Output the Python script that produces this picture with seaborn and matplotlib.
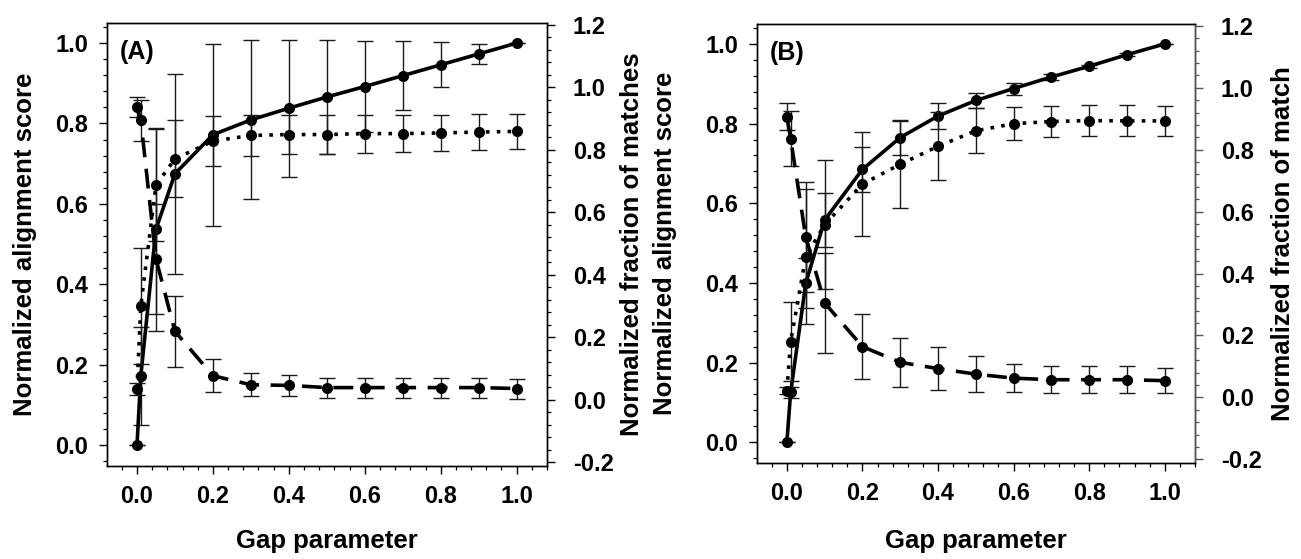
import numpy as np
import pandas as pd
import matplotlib
matplotlib.use("Agg")
import matplotlib.pyplot as plt
from matplotlib.ticker import MultipleLocator, FormatStrFormatter
import seaborn as sns

# ---------------- data ----------------
gap = [0, 0.01, 0.05, 0.1, 0.2, 0.3, 0.4, 0.5, 0.6, 0.7, 0.8, 0.9, 1.0]

# Panel A
score_a = [0.0, 0.172, 0.537, 0.675, 0.772, 0.809, 0.838, 0.866, 0.892, 0.919, 0.946, 0.973, 1.0]
score_a_err = [0.0, 0.121, 0.252, 0.249, 0.227, 0.198, 0.170, 0.141, 0.112, 0.085, 0.056, 0.025, 0.0]
dotted_a = [0.035, 0.301, 0.687, 0.771, 0.828, 0.846, 0.849, 0.849, 0.852, 0.852, 0.854, 0.857, 0.859]
dotted_a_err = [0.02, 0.185, 0.18, 0.123, 0.079, 0.066, 0.062, 0.062, 0.061, 0.058, 0.059, 0.057, 0.057]
dashed_a = [0.938, 0.895, 0.451, 0.219, 0.077, 0.048, 0.046, 0.039, 0.039, 0.039, 0.039, 0.039, 0.036]
dashed_a_err = [0.032, 0.066, 0.176, 0.113, 0.052, 0.037, 0.033, 0.032, 0.032, 0.032, 0.032, 0.032, 0.032]

# Panel B
score_b = [0.0, 0.125, 0.399, 0.558, 0.685, 0.765, 0.819, 0.858, 0.888, 0.917, 0.944, 0.973, 1.0]
score_b_err = [0.0, 0.015, 0.063, 0.069, 0.056, 0.043, 0.033, 0.02, 0.015, 0.007, 0.004, 0.003, 0.0]
dotted_b = [0.022, 0.180, 0.454, 0.558, 0.689, 0.753, 0.811, 0.861, 0.884, 0.891, 0.894, 0.893, 0.893]
dotted_b_err = [0.011, 0.128, 0.218, 0.208, 0.167, 0.14, 0.11, 0.073, 0.054, 0.049, 0.05, 0.05, 0.048]
dashed_b = [0.907, 0.836, 0.518, 0.305, 0.164, 0.113, 0.093, 0.075, 0.062, 0.057, 0.057, 0.057, 0.054]
dashed_b_err = [0.043, 0.09, 0.179, 0.162, 0.105, 0.079, 0.07, 0.059, 0.046, 0.043, 0.043, 0.043, 0.041]

panel_labels = ["(A)", "(B)"]
xlabel = "Gap parameter"
left_label = "Normalized alignment score"
right_labels = ["Normalized fraction of matches", "Normalized fraction of match"]

# ---------------- style ----------------
sns.set_theme(style="ticks")
plt.rcParams["font.family"] = ["Liberation Sans", "DejaVu Sans"]
plt.rcParams["font.weight"] = "bold"
plt.rcParams["axes.unicode_minus"] = False
for key in ["text.color", "axes.labelcolor", "xtick.color", "ytick.color", "axes.edgecolor"]:
    plt.rcParams[key] = "black"

FS_TICK = 17
FS_LABEL = 18.5
LW = 2.6
MS = 8
EB_KW = dict(fmt="none", ecolor="#1a1a1a", elinewidth=1.0, capsize=5.5, capthick=1.0)

fig = plt.figure(figsize=(13.01, 5.59), dpi=100)
W, H = 1301, 559

def px_axes(l, t, r, b):
    return [l / W, 1 - b / H, (r - l) / W, (b - t) / H]

axes_rects = [px_axes(107, 23, 547, 466), px_axes(757, 24, 1195, 463)]
datasets = [
    (score_a, score_a_err, dotted_a, dotted_a_err, dashed_a, dashed_a_err),
    (score_b, score_b_err, dotted_b, dotted_b_err, dashed_b, dashed_b_err),
]
left_label_x = [-0.186, -0.21]
right_label_x = [1.193, 1.201]
xlabel_y = [-0.169, -0.178]

for i, rect in enumerate(axes_rects):
    sc, sc_e, dt, dt_e, ds, ds_e = datasets[i]
    ax = fig.add_axes(rect)
    ax2 = ax.twinx()

    df = pd.DataFrame({"gap": gap, "score": sc, "dotted": dt, "dashed": ds})

    # left axis: alignment score (solid)
    ax.errorbar(gap, sc, yerr=sc_e, **EB_KW, zorder=2)
    sns.lineplot(data=df, x="gap", y="score", ax=ax, color="black", lw=LW,
                 marker="o", markersize=MS, markeredgewidth=0, errorbar=None,
                 sort=False, zorder=3)

    # right axis: fractions (dotted and dashed)
    ax2.errorbar(gap, dt, yerr=dt_e, **EB_KW, zorder=2)
    ax2.errorbar(gap, ds, yerr=ds_e, **EB_KW, zorder=2)
    sns.lineplot(data=df, x="gap", y="dotted", ax=ax2, color="black", lw=LW,
                 linestyle=(0, (1.0, 2.0)), marker="o", markersize=MS,
                 markeredgewidth=0, errorbar=None, sort=False, zorder=3)
    sns.lineplot(data=df, x="gap", y="dashed", ax=ax2, color="black", lw=LW,
                 linestyle=(0, (5.5, 3.2)), marker="o", markersize=MS,
                 markeredgewidth=0, errorbar=None, sort=False, zorder=3)

    ax.set_xlim(-0.079, 1.08)
    ax.set_ylim(-0.052, 1.05)
    ax2.set_ylim(-0.212, 1.206)

    ax.xaxis.set_major_locator(MultipleLocator(0.2))
    ax.xaxis.set_minor_locator(MultipleLocator(0.04))
    ax.yaxis.set_major_locator(MultipleLocator(0.2))
    ax.yaxis.set_minor_locator(MultipleLocator(0.04))
    ax2.yaxis.set_major_locator(MultipleLocator(0.2))
    ax2.yaxis.set_minor_locator(MultipleLocator(0.04))
    ax.xaxis.set_major_formatter(FormatStrFormatter("%.1f"))
    ax.yaxis.set_major_formatter(FormatStrFormatter("%.1f"))
    ax2.yaxis.set_major_formatter(FormatStrFormatter("%.1f"))

    for a in (ax, ax2):
        a.tick_params(which="major", length=5.5, width=1.0, direction="out", color="black")
        a.tick_params(which="minor", length=3.0, width=0.9, direction="out", color="black")
        for s in a.spines.values():
            s.set_linewidth(1.0)
            s.set_color("black")
        a.grid(False)
    ax.tick_params(axis="x", which="major", pad=8, labelsize=FS_TICK, labelcolor="black")
    ax.tick_params(axis="y", which="major", pad=8, labelsize=FS_TICK, labelcolor="black")
    ax2.tick_params(axis="y", which="major", pad=13, labelsize=FS_TICK, labelcolor="black")
    for lab in ax.get_xticklabels() + ax.get_yticklabels() + ax2.get_yticklabels():
        lab.set_fontweight("bold")
    if i == 1:
        ax2.spines["right"].set_color("#555555")
        ax2.tick_params(axis="y", which="both", color="#555555")

    ax.set_xlabel(xlabel, fontsize=FS_LABEL, fontweight="bold", va="center", color="black")
    ax.xaxis.set_label_coords(0.5, xlabel_y[i])
    ax.set_ylabel(left_label, fontsize=FS_LABEL, fontweight="bold", va="center", color="black")
    ax.yaxis.set_label_coords(left_label_x[i], 0.5)
    ax2.set_ylabel(right_labels[i], fontsize=FS_LABEL, fontweight="bold",
                   va="center", rotation=90, color="black")
    ax2.yaxis.set_label_coords(right_label_x[i], 0.5)

    ax.text(0.03, 0.935, panel_labels[i], transform=ax.transAxes,
            fontsize=18, fontweight="bold", ha="left", va="center", color="black")

fig.savefig("out.png", dpi=100)
